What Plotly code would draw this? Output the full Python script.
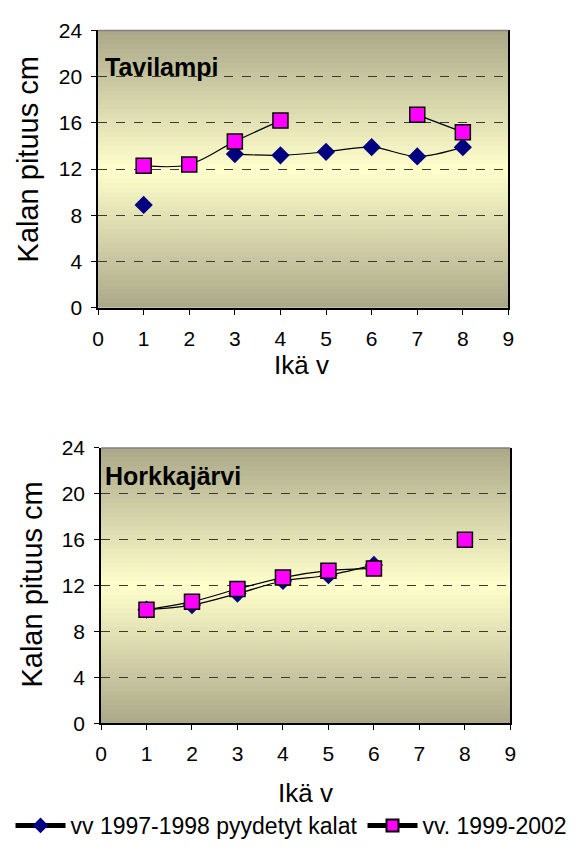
import plotly.graph_objects as go

# ---- data ----
ages = [1, 2, 3, 4, 5, 6, 7, 8]
tavi_9798 = [8.9, None, 13.3, 13.2, 13.5, 13.9, 13.1, 13.9]
tavi_9902 = [12.3, 12.4, 14.4, 16.2, None, None, 16.7, 15.2]
hork_9798 = [9.9, 10.3, 11.3, 12.4, 12.9, 13.8, None, None]
hork_9902 = [9.9, 10.6, 11.7, 12.7, 13.3, 13.5, None, 16.0]
series_names = ["vv 1997-1998 pyydetyt kalat", "vv. 1999-2002"]
panel_titles = ["Tavilampi", "Horkkajärvi"]
x_title = "Ikä v"
y_title = "Kalan pituus cm"
x_ticks = list(range(0, 10))
y_ticks = [0, 4, 8, 12, 16, 20, 24]

FONT = "Liberation Sans, Arial, sans-serif"
W, H = 583, 852

def px_x(p):
    return p / W

def px_y(p):
    return 1 - p / H

fig = go.Figure()

diamond_style = dict(mode="lines+markers", line=dict(color="black", width=1.2, shape="spline"),
                     marker=dict(symbol="diamond", size=14, color="#000080", line=dict(width=0)),
                     connectgaps=False)
square_style = dict(mode="lines+markers", line=dict(color="black", width=1.2, shape="spline"),
                    marker=dict(symbol="square", size=15, color="#ff00ff", line=dict(color="black", width=1.5)),
                    connectgaps=False)

fig.add_trace(go.Scatter(x=ages, y=tavi_9798, name=series_names[0], xaxis="x", yaxis="y",
                         legendrank=1, **diamond_style))
fig.add_trace(go.Scatter(x=ages, y=tavi_9902, name=series_names[1], xaxis="x", yaxis="y",
                         legendrank=2, **square_style))
fig.add_trace(go.Scatter(x=ages, y=hork_9798, name=series_names[0], xaxis="x2", yaxis="y2",
                         showlegend=False, **diamond_style))
fig.add_trace(go.Scatter(x=ages, y=hork_9902, name=series_names[1], xaxis="x2", yaxis="y2",
                         showlegend=False, **square_style))

xdom1 = [px_x(94), px_x(513)]
ydom1 = [px_y(304), px_y(19)]
xdom2 = [px_x(97), px_x(515)]
ydom2 = [px_y(731), px_y(448)]

def xaxis(dom, anchor):
    return dict(domain=dom, anchor=anchor, range=[0, 9], tickvals=x_ticks, ticks="outside",
                ticklen=5, tickcolor="black", showline=True, linecolor="black", linewidth=1.5,
                showgrid=False, zeroline=False, ticklabelstandoff=6,
                tickfont=dict(family=FONT, size=21, color="black"), fixedrange=True)

def yaxis(dom, anchor):
    return dict(domain=dom, anchor=anchor, range=[0, 24], tickvals=y_ticks, ticks="outside",
                ticklen=5, tickcolor="black", showline=True, linecolor="black", linewidth=1.5,
                mirror=True, showgrid=True, gridcolor="#3a3a3a", griddash="dash", gridwidth=1,
                zeroline=False, ticklabelstandoff=5,
                tickfont=dict(family=FONT, size=21, color="black"), fixedrange=True)

# gradient background strips
shapes = []
dark = (170, 168, 136)
light = (255, 255, 204)
N = 60
for xr, yr in (("x domain", "y domain"), ("x2 domain", "y2 domain")):
    for i in range(N):
        t = (i + 0.5) / N
        d = abs(t - 0.5) * 2
        c = tuple(round(light[k] + (dark[k] - light[k]) * d) for k in range(3))
        shapes.append(dict(type="rect", xref=xr, yref=yr, x0=0, x1=1, y0=i / N, y1=min(1, (i + 1) / N + 0.004),
                           fillcolor="rgb(%d,%d,%d)" % c, line=dict(width=0), layer="below"))
    shapes.append(dict(type="line", xref=xr, yref=yr, x0=0, x1=1, y0=1, y1=1,
                       line=dict(color="#808080", width=1.5), layer="above"))

annotations = [
    dict(text="<b>%s</b>" % panel_titles[0], xref="paper", yref="paper", x=px_x(99), y=px_y(57),
         xanchor="left", yanchor="middle", showarrow=False, font=dict(family=FONT, size=25, color="black")),
    dict(text="<b>%s</b>" % panel_titles[1], xref="paper", yref="paper", x=px_x(99), y=px_y(477),
         xanchor="left", yanchor="middle", showarrow=False, font=dict(family=FONT, size=25, color="black")),
    dict(text=y_title, xref="paper", yref="paper", x=px_x(22), y=px_y(152), textangle=-90,
         xanchor="center", yanchor="middle", showarrow=False, font=dict(family=FONT, size=29, color="black")),
    dict(text=y_title, xref="paper", yref="paper", x=px_x(27), y=px_y(588), textangle=-90,
         xanchor="center", yanchor="middle", showarrow=False, font=dict(family=FONT, size=29, color="black")),
    dict(text=x_title, xref="paper", yref="paper", x=px_x(302), y=px_y(363),
         xanchor="center", yanchor="middle", showarrow=False, font=dict(family=FONT, size=26, color="black")),
    dict(text=x_title, xref="paper", yref="paper", x=px_x(306), y=px_y(803),
         xanchor="center", yanchor="middle", showarrow=False, font=dict(family=FONT, size=26, color="black")),
]

fig.update_layout(
    width=W, height=H, margin=dict(l=0, r=0, t=0, b=0),
    paper_bgcolor="white", plot_bgcolor="rgba(0,0,0,0)",
    xaxis=xaxis(xdom1, "y"), yaxis=yaxis(ydom1, "x"),
    xaxis2=xaxis(xdom2, "y2"), yaxis2=yaxis(ydom2, "x2"),
    shapes=shapes, annotations=annotations,
    showlegend=True,
    legend=dict(orientation="h", x=0.5, xanchor="center", y=px_y(836), yanchor="middle",
                font=dict(family=FONT, size=23, color="black"), bgcolor="rgba(0,0,0,0)",
                itemsizing="constant", tracegroupgap=0, itemwidth=50),
    font=dict(family=FONT, color="black"),
)

fig.write_html("out.html")
